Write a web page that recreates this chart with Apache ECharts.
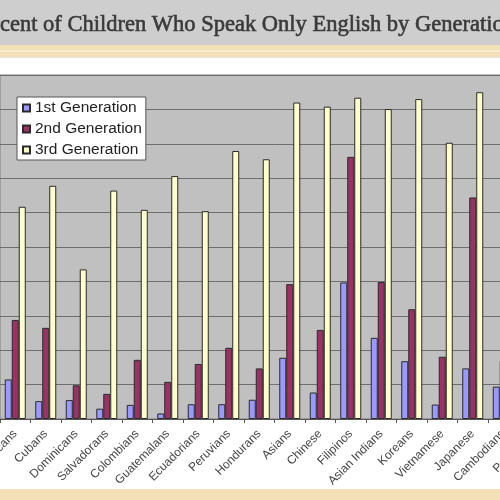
<!DOCTYPE html>
<html><head><meta charset="utf-8">
<script src="https://cdn.jsdelivr.net/npm/echarts@6/dist/echarts.min.js"></script>
<style>
html,body{margin:0;padding:0;width:500px;height:500px;overflow:hidden;background:#fff;}
#chart{position:absolute;left:-60px;top:0;width:640px;height:500px;}
</style>
</head><body><div id="chart"></div>
<script>
const categories = ['Mexicans','Cubans','Dominicans','Salvadorans','Colombians','Guatemalans','Ecuadorians','Peruvians','Hondurans','Asians','Chinese','Filipinos','Asian Indians','Koreans','Vietnamese','Japanese','Cambodians','Pakistanis'];
const firstGen  = [11.5, 5.2, 5.5, 3.0, 4.1, 1.6, 4.3, 4.3, 5.6, 17.8, 7.7, 39.7, 23.6, 16.8, 4.2, 14.7, 9.4, null];
const secondGen = [28.8, 26.5, 9.8, 7.3, 17.2, 10.8, 16.0, 20.7, 14.7, 39.2, 25.9, 76.2, 39.8, 31.9, 18.1, 64.4, 16.9, null];
const thirdGen  = [61.7, 67.8, 43.5, 66.4, 60.8, 70.6, 60.4, 77.9, 75.5, 92.0, 90.8, 93.4, 90.1, 93.0, 80.3, 95.0, null, null];
const seriesNames = ['1st Generation','2nd Generation','3rd Generation'];
const yMin = 0, yMax = 100, yInterval = 10;
const titleText = 'Percent of Children Who Speak Only English by Generation';

const OX = 60; // container offset (chart is cropped on the left)
const chart = echarts.init(document.getElementById('chart'), null, {renderer:'canvas'});
const barStyle = c => ({color:c, borderColor:'#2a2a2a', borderWidth:1});
chart.setOption({
  backgroundColor:'#ffffff',
  animation:false,
  graphic:[
    {type:'rect', shape:{x:0,y:0,width:640,height:45}, style:{fill:'#cecece'}, silent:true},
    {type:'rect', shape:{x:0,y:45,width:640,height:12}, style:{fill:'#f3e0b6'}, silent:true},
    {type:'rect', shape:{x:0,y:50,width:640,height:2}, style:{fill:'#f9eed4'}, silent:true},
    {type:'rect', shape:{x:0,y:57,width:640,height:1}, style:{fill:'#e2e2e2'}, silent:true},
    {type:'rect', shape:{x:0,y:489,width:640,height:11}, style:{fill:'#f3e0b6'}, silent:true},
    {type:'text', x:OX-30, y:25, style:{text:titleText, fontSize:22.5, fontFamily:'Liberation Serif', fill:'#3a3a3a', stroke:'#3a3a3a', lineWidth:0.6, textVerticalAlign:'middle'}, silent:true}
  ],
  legend:{
    orient:'vertical', left:OX+17, top:97,
    backgroundColor:'#ffffff', borderColor:'#555555', borderWidth:1,
    padding:[3,4,2,5], itemGap:5, itemWidth:7, itemHeight:7, icon:'rect',
    textStyle:{fontFamily:'Liberation Sans', fontSize:15.5, color:'#222222'},
    data:seriesNames
  },
  grid:{left:OX, top:75, width:549, height:344, show:true, backgroundColor:'#c0c0c0', borderColor:'#7a7a7a', borderWidth:1, containLabel:false},
  xAxis:{
    type:'category', data:categories,
    axisLine:{lineStyle:{color:'#555555'}},
    axisTick:{show:true, length:4, lineStyle:{color:'#555555'}},
    axisLabel:{interval:0, rotate:45, margin:13, fontFamily:'Liberation Sans', fontSize:12, color:'#444444'}
  },
  yAxis:{
    type:'value', min:yMin, max:yMax, interval:yInterval,
    axisLine:{show:false}, axisTick:{show:false},
    axisLabel:{fontFamily:'Liberation Sans', fontSize:12, color:'#444'},
    splitLine:{lineStyle:{color:'#6e6e6e', width:1}}
  },
  series:[
    {name:seriesNames[0], type:'bar', data:firstGen, barWidth:7, barGap:'0%', itemStyle:barStyle('#9999ff')},
    {name:seriesNames[1], type:'bar', data:secondGen, barWidth:7, barGap:'0%', itemStyle:barStyle('#993366')},
    {name:seriesNames[2], type:'bar', data:thirdGen, barWidth:7, barGap:'0%', itemStyle:barStyle('#ffffcc')}
  ]
});
</script></body></html>
